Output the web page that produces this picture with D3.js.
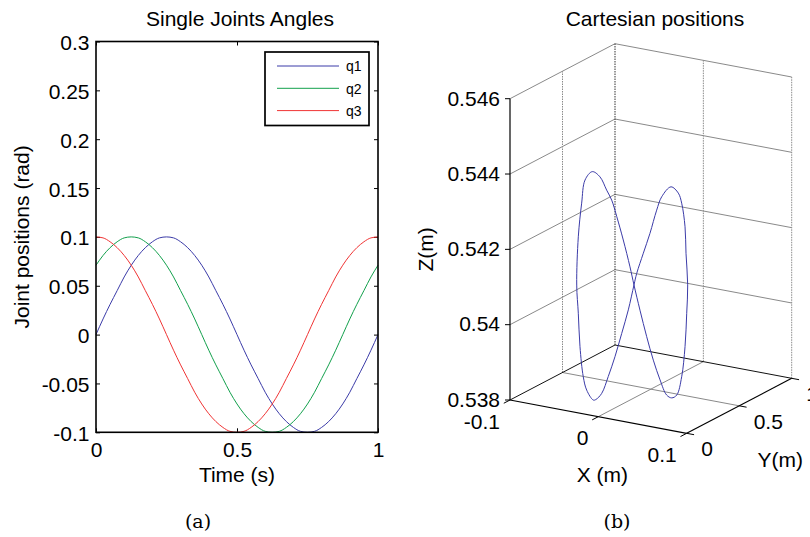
<!DOCTYPE html>
<html>
<head>
<meta charset="utf-8">
<script src="https://cdn.jsdelivr.net/npm/d3@7"></script>
<style>
  html, body { margin: 0; padding: 0; background: #fff; }
  svg { display: block; }
  text { font-family: "Liberation Sans", Arial, Helvetica, sans-serif; fill: #000; }
</style>
</head>
<body>
<svg id="fig" width="810" height="537"></svg>
<script>
// ---- (a) joint trajectories, sampled every 0.025 s ----
const time = [0, 0.025, 0.05, 0.075, 0.1, 0.125, 0.15, 0.175, 0.2, 0.225,
  0.25, 0.275, 0.3, 0.325, 0.35, 0.375, 0.4, 0.425, 0.45, 0.475,
  0.5, 0.525, 0.55, 0.575, 0.6, 0.625, 0.65, 0.675, 0.7, 0.725,
  0.75, 0.775, 0.8, 0.825, 0.85, 0.875, 0.9, 0.925, 0.95, 0.975, 1];
const q1 = [0, 0.016, 0.031, 0.045, 0.059, 0.071, 0.081, 0.089, 0.095, 0.099,
  0.1, 0.099, 0.095, 0.089, 0.081, 0.071, 0.059, 0.045, 0.031, 0.016,
  0, -0.016, -0.031, -0.045, -0.059, -0.071, -0.081, -0.089, -0.095, -0.099,
  -0.1, -0.099, -0.095, -0.089, -0.081, -0.071, -0.059, -0.045, -0.031, -0.016, 0];
const q2 = [0.071, 0.081, 0.089, 0.095, 0.099, 0.1, 0.099, 0.095, 0.089, 0.081,
  0.071, 0.059, 0.045, 0.031, 0.016, 0, -0.016, -0.031, -0.045, -0.059,
  -0.071, -0.081, -0.089, -0.095, -0.099, -0.1, -0.099, -0.095, -0.089, -0.081,
  -0.071, -0.059, -0.045, -0.031, -0.016, 0, 0.016, 0.031, 0.045, 0.059, 0.071];
const q3 = [0.1, 0.099, 0.095, 0.089, 0.081, 0.071, 0.059, 0.045, 0.031, 0.016,
  0, -0.016, -0.031, -0.045, -0.059, -0.071, -0.081, -0.089, -0.095, -0.099,
  -0.1, -0.099, -0.095, -0.089, -0.081, -0.071, -0.059, -0.045, -0.031, -0.016,
  0, 0.016, 0.031, 0.045, 0.059, 0.071, 0.081, 0.089, 0.095, 0.099, 0.1];
const jointNames = ["q1", "q2", "q3"];
const jointColors = ["#3b3ba8", "#12a04c", "#f03434"];
const angleTicks = [-0.1, -0.05, 0, 0.05, 0.1, 0.15, 0.2, 0.25, 0.3];
const timeTicks = [0, 0.5, 1];

// ---- (b) end-effector path (X, Z in m), drawn in the plane Y = pathPlaneY ----
const pathX = [0.0011, -0.0034, -0.0110, -0.0184, -0.0241, -0.0298, -0.0374, -0.0461, -0.0543, -0.0581,
  -0.0619, -0.0637, -0.0619, -0.0600, -0.0563, -0.0524, -0.0449, -0.0419, -0.0354, -0.0280,
  -0.0204, -0.0128, -0.0053, 0.0011, 0.0042, 0.0117, 0.0192, 0.0268, 0.0325, 0.0430,
  0.0513, 0.0551, 0.0589, 0.0600, 0.0619, 0.0608, 0.0589, 0.0551, 0.0495, 0.0438,
  0.0381, 0.0306, 0.0230, 0.0155, 0.0079];
const pathZ = [0.54102, 0.54148, 0.54216, 0.54275, 0.54316, 0.54340, 0.54372, 0.54382, 0.54356, 0.54293,
  0.54202, 0.54073, 0.53999, 0.53911, 0.53833, 0.53799, 0.53776, 0.53779, 0.53798, 0.53846,
  0.53902, 0.53967, 0.54033, 0.54102, 0.54134, 0.54191, 0.54247, 0.54312, 0.54350, 0.54381,
  0.54368, 0.54343, 0.54282, 0.54212, 0.54129, 0.54053, 0.53964, 0.53882, 0.53831, 0.53821,
  0.53826, 0.53863, 0.53912, 0.53971, 0.54038];
const pathPlaneY = 0.33;
const xTicks3 = [-0.1, 0, 0.1];
const yTicks3 = [0, 0.5, 1];
const zTicks3 = [0.538, 0.54, 0.542, 0.544, 0.546];
const zTickLabels = ["0.538", "0.54", "0.542", "0.544", "0.546"];

const svg = d3.select("#fig");
const FS = 21;

// ================= (a) Single Joints Angles =================
const L = { left: 96, right: 378, top: 41.5, bottom: 432.3 };
const xS = d3.scaleLinear().domain([0, 1]).range([L.left, L.right]);
const yS = d3.scaleLinear().domain([-0.1, 0.3]).range([L.bottom, L.top]);
const gA = svg.append("g");

const fmt = d => String(d);
function styleAxis(g, labels) {
  g.select(".domain").remove();
  g.selectAll(".tick line").attr("stroke", "#000").attr("stroke-width", 1);
  g.selectAll(".tick text").style("font-size", FS + "px")
    .style("font-family", "'Liberation Sans', Arial, sans-serif").attr("fill", "#000");
  if (!labels) g.selectAll(".tick text").remove();
}
gA.append("g").attr("transform", `translate(${L.left},0)`)
  .call(d3.axisLeft(yS).tickValues(angleTicks).tickFormat(fmt).tickSize(-4).tickPadding(6.5))
  .call(g => styleAxis(g, true))
  .call(g => g.selectAll(".tick text").attr("dy", "0.38em"));
gA.append("g").attr("transform", `translate(${L.right},0)`)
  .call(d3.axisRight(yS).tickValues(angleTicks).tickSize(-4))
  .call(g => styleAxis(g, false));
gA.append("g").attr("transform", `translate(0,${L.bottom})`)
  .call(d3.axisBottom(xS).tickValues(timeTicks).tickFormat(fmt).tickSize(-4).tickPadding(9.5))
  .call(g => styleAxis(g, true));
gA.append("g").attr("transform", `translate(0,${L.top})`)
  .call(d3.axisTop(xS).tickValues(timeTicks).tickSize(-4))
  .call(g => styleAxis(g, false));

const series = [q1, q2, q3];
const line = d3.line().x((d, i) => xS(time[i])).y(d => yS(d)).curve(d3.curveMonotoneX);
gA.append("g").selectAll("path").data(series).join("path")
  .attr("d", d => line(d))
  .attr("fill", "none")
  .attr("stroke", (d, i) => jointColors[i])
  .attr("stroke-width", 1);

gA.append("rect")
  .attr("x", L.left).attr("y", L.top)
  .attr("width", L.right - L.left).attr("height", L.bottom - L.top)
  .attr("fill", "none").attr("stroke", "#000").attr("stroke-width", 1.6);

// legend
const lg = gA.append("g");
lg.append("rect").attr("x", 265).attr("y", 52).attr("width", 104).attr("height", 73.5)
  .attr("fill", "#fff").attr("stroke", "#000").attr("stroke-width", 1.7);
jointNames.forEach((name, i) => {
  const ly = 66 + i * 22.3;
  lg.append("line").attr("x1", 277).attr("x2", 339).attr("y1", ly).attr("y2", ly)
    .attr("stroke", jointColors[i]).attr("stroke-width", 1);
  lg.append("text").attr("x", 346).attr("y", ly + 5.3).style("font-size", "14px").text(name);
});

gA.append("text").attr("x", 240).attr("y", 26).attr("text-anchor", "middle")
  .style("font-size", FS + "px").text("Single Joints Angles");
gA.append("text").attr("x", 237).attr("y", 482).attr("text-anchor", "middle")
  .style("font-size", FS + "px").text("Time (s)");
gA.append("text").attr("transform", `translate(29,${(L.top + L.bottom) / 2}) rotate(-90)`)
  .attr("text-anchor", "middle").style("font-size", FS + "px").text("Joint positions (rad)");

// ================= (b) Cartesian positions (3-D view) =================
const X3 = d3.scaleLinear().domain([-0.1, 0.1]).range([0, 1]);
const Y3 = d3.scaleLinear().domain([0, 1]).range([0, 1]);
const Z3 = d3.scaleLinear().domain([0.538, 0.546]).range([0, 1]);
const O = [510, 400], EX = [176.7, 33.3], EY = [105, -55], EZ = [0, -301.3];
function proj(x, y, z) {
  const u = X3(x), v = Y3(y), w = Z3(z);
  return [O[0] + u * EX[0] + v * EY[0] + w * EZ[0], O[1] + u * EX[1] + v * EY[1] + w * EZ[1]];
}
const [xMin, xMax] = X3.domain(), [yMin, yMax] = Y3.domain(), [zMin, zMax] = Z3.domain();
const gB = svg.append("g");

function seg(p, q, stroke, width, dash) {
  gB.append("line").attr("x1", p[0]).attr("y1", p[1]).attr("x2", q[0]).attr("y2", q[1])
    .attr("stroke", stroke).attr("stroke-width", width)
    .attr("stroke-dasharray", dash || null);
}
const GRID = "#7c7c7c";

// horizontal grid on the left (x = xMin) and back (y = yMax) walls
zTicks3.forEach(z => {
  if (z === zMin) return;
  seg(proj(xMin, yMin, z), proj(xMin, yMax, z), GRID, 0.9);
  seg(proj(xMin, yMax, z), proj(xMax, yMax, z), GRID, 0.9);
});
// vertical grid on the left wall
yTicks3.forEach(y => {
  if (y === yMin) return;
  const dark = y === yMax;
  seg(proj(xMin, y, zMin), proj(xMin, y, zMax), dark ? "#333" : "#8a8a8a", 1, "1.5,1");
});
// vertical grid on the back wall
xTicks3.forEach(x => {
  if (x === xMin) return;
  seg(proj(x, yMax, zMin), proj(x, yMax, zMax), "#8a8a8a", 1, "1.5,1");
});
// floor grid
xTicks3.forEach(x => {
  if (x === xMin || x === xMax) return;
  seg(proj(x, yMin, zMin), proj(x, yMax, zMin), GRID, 0.9);
});
yTicks3.forEach(y => {
  if (y === yMin || y === yMax) return;
  seg(proj(xMin, y, zMin), proj(xMax, y, zMin), GRID, 0.9);
});
// floor back edges
seg(proj(xMin, yMin, zMin), proj(xMin, yMax, zMin), "#111", 1);
seg(proj(xMin, yMax, zMin), proj(xMax, yMax, zMin), "#111", 1);

// axis lines
seg(proj(xMin, yMin, zMin), proj(xMin, yMin, zMax), "#000", 1.2);
seg(proj(xMin, yMin, zMin), proj(xMax, yMin, zMin), "#000", 1.2);
seg(proj(xMax, yMin, zMin), proj(xMax, yMax, zMin), "#000", 1.2);

// ticks and tick labels
const norm = v => { const l = Math.hypot(v[0], v[1]); return [v[0] / l, v[1] / l]; };
const dX = norm([-EY[0], -EY[1]]), dY = norm(EX);
zTicks3.forEach((z, i) => {
  const p = proj(xMin, yMin, z);
  seg(p, [p[0] - 5, p[1]], "#000", 1);
  gB.append("text").attr("x", 500).attr("y", p[1] + 6.8).attr("text-anchor", "end")
    .style("font-size", FS + "px").text(zTickLabels[i]);
});
xTicks3.forEach(x => {
  const p = proj(x, yMin, zMin);
  seg(p, [p[0] + dX[0] * 7, p[1] + dX[1] * 7], "#000", 1);
  gB.append("text").attr("x", p[0] - 10).attr("y", p[1] + 28.5).attr("text-anchor", "end")
    .style("font-size", FS + "px").text(String(x));
});
yTicks3.forEach(y => {
  const p = proj(xMax, y, zMin);
  seg(p, [p[0] + dY[0] * 7.5, p[1] + dY[1] * 7.5], "#000", 1);
  gB.append("text").attr("x", p[0] + 14.5).attr("y", p[1] + 23).attr("text-anchor", "start")
    .style("font-size", FS + "px").text(String(y));
});

// end-effector path
const pathPts = pathX.map((x, i) => proj(x, pathPlaneY, pathZ[i]));
gB.append("path")
  .attr("d", d3.line().curve(d3.curveCatmullRomClosed.alpha(0.5))(pathPts))
  .attr("fill", "none").attr("stroke", "#3b3ba8").attr("stroke-width", 1);

// titles and axis names
gB.append("text").attr("x", 655).attr("y", 26).attr("text-anchor", "middle")
  .style("font-size", FS + "px").text("Cartesian positions");
const pxl = proj(0, yMin, zMin);
gB.append("text").attr("x", pxl[0] + 4).attr("y", pxl[1] + 65.5).attr("text-anchor", "middle")
  .style("font-size", FS + "px").text("X (m)");
const pyl = proj(xMax, 0.5, zMin);
gB.append("text").attr("x", pyl[0] + 41).attr("y", pyl[1] + 61).attr("text-anchor", "middle")
  .style("font-size", FS + "px").text("Y(m)");
const zMid = (proj(xMin, yMin, zMin)[1] + proj(xMin, yMin, zMax)[1]) / 2;
gB.append("text").attr("transform", `translate(433,${zMid}) rotate(-90)`)
  .attr("text-anchor", "middle").style("font-size", FS + "px").text("Z(m)");

// sub-figure captions
svg.append("text").attr("x", 198).attr("y", 528).attr("text-anchor", "middle")
  .style("font-family", "'DejaVu Serif', serif").style("font-size", "19px").attr("fill", "#444")
  .text("(a)");
svg.append("text").attr("x", 617).attr("y", 528).attr("text-anchor", "middle")
  .style("font-family", "'DejaVu Serif', serif").style("font-size", "19px").attr("fill", "#444")
  .text("(b)");
</script>
</body>
</html>
